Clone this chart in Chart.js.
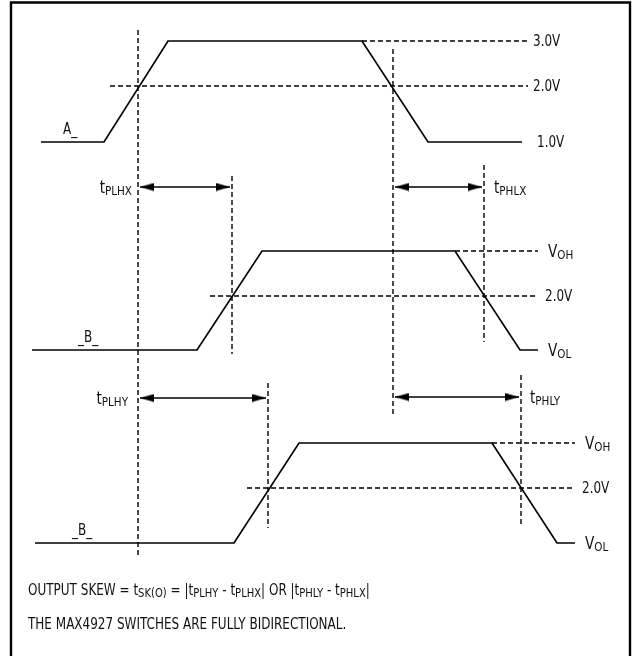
<!DOCTYPE html>
<html>
<head>
<meta charset="utf-8">
<script src="https://cdn.jsdelivr.net/npm/chart.js@4.4.1/dist/chart.umd.min.js"></script>
<style>
  html, body { margin: 0; padding: 0; background: #ffffff; }
  canvas { display: block; }
</style>
</head>
<body>
<canvas id="c" width="632" height="656"></canvas>
<script>
// ---- Data (diagram units: time along x, signal level along y, 1 unit = 10 px) ----
// Waveform A_ (input), 1.0V low / 3.0V high
const timeA   = [4.1, 10.4, 16.8, 36.2, 42.8, 52.2];
const levelA  = [14.2, 14.2, 4.1, 4.1, 14.2, 14.2];
// Waveform _B_ (first output), VOL / VOH
const timeB1  = [3.2, 19.7, 26.2, 45.5, 52.0, 53.8];
const levelB1 = [35.0, 35.0, 25.1, 25.1, 35.0, 35.0];
// Waveform _B_ (second output), VOL / VOH
const timeB2  = [3.5, 23.4, 29.9, 49.2, 55.7, 57.5];
const levelB2 = [54.3, 54.3, 44.3, 44.3, 54.3, 54.3];

// Horizontal reference levels: [level, start time, end time]
const refLevels = [
  [8.6, 11.0, 52.8],   // A 2.0V
  [4.1, 36.2, 52.8],   // A 3.0V
  [29.6, 21.0, 53.7],  // B1 2.0V
  [25.1, 45.5, 53.8],  // B1 VOH
  [48.8, 24.7, 57.5],  // B2 2.0V
  [44.3, 49.2, 57.5]   // B2 VOH
];
// Vertical timing markers: [time, top level, bottom level]
const markers = [
  [13.8, 3.0, 55.7],
  [23.2, 17.6, 35.4],
  [39.3, 4.9, 41.4],
  [48.4, 16.5, 34.2],
  [26.8, 38.3, 52.8],
  [52.1, 37.5, 52.7]
];
// Propagation delay intervals: [start time, end time, row level]
const delays = [
  [14.0, 23.0, 18.7],  // tPLHX
  [39.5, 48.2, 18.7],  // tPHLX
  [14.0, 26.6, 39.8],  // tPLHY
  [39.5, 51.9, 39.7]   // tPHLY
];
// Labels: [text, time, level, align, kind]
const labels = [
  ['A_', 6.3, 12.9, 'left', 'n'],
  ['3.0V', 53.3, 4.1, 'left', 'n'],
  ['2.0V', 53.3, 8.6, 'left', 'n'],
  ['1.0V', 53.7, 14.2, 'left', 'n'],
  ['t_{PLHX}', 13.2, 18.7, 'right', 't'],
  ['t_{PHLX}', 49.4, 18.7, 'left', 't'],
  ['_B_', 7.8, 33.7, 'left', 'n'],
  ['V_{OH}', 54.8, 25.1, 'left', 't'],
  ['2.0V', 54.5, 29.6, 'left', 'n'],
  ['V_{OL}', 54.8, 35.0, 'left', 't'],
  ['t_{PLHY}', 12.8, 39.8, 'right', 't'],
  ['t_{PHLY}', 53.0, 39.7, 'left', 't'],
  ['_B_', 7.2, 53.0, 'left', 'n'],
  ['V_{OH}', 58.5, 44.3, 'left', 't'],
  ['2.0V', 58.2, 48.8, 'left', 'n'],
  ['V_{OL}', 58.5, 54.3, 'left', 't'],
  ['OUTPUT SKEW = t_{SK(O)} = |t_{PLHY} - t_{PLHX}| OR |t_{PHLY} - t_{PHLX}|', 2.8, 59.0, 'left', 'b'],
  ['THE MAX4927 SWITCHES ARE FULLY BIDIRECTIONAL.', 2.8, 62.4, 'left', 'b']
];
// Figure frame
const frameX = [1.1, 1.1, 63.0, 63.0];
const frameY = [70, 0.25, 0.25, 70];

// ---- Build ----
const FONT = '"Liberation Sans Narrow", "DejaVu Sans Condensed", "Arial Narrow", sans-serif';
const INK = '#111111';
const SQUEEZE = 0.89;

function pts(xs, ys) { return xs.map((x, i) => ({ x: x, y: ys[i] })); }

function arrowImg(dir) {
  const L = 14, H = 9;
  const cv = document.createElement('canvas');
  cv.width = 2 * L; cv.height = H;
  const g = cv.getContext('2d');
  g.fillStyle = '#000';
  g.beginPath();
  if (dir > 0) { g.moveTo(0, 0.5); g.lineTo(L, H / 2); g.lineTo(0, H - 0.5); }
  else { g.moveTo(2 * L, 0.5); g.lineTo(L, H / 2); g.lineTo(2 * L, H - 0.5); }
  g.closePath(); g.fill();
  return cv;
}
const leftHead = arrowImg(-1), rightHead = arrowImg(1);

const datasets = [];
const solid = { showLine: true, borderColor: '#000', borderWidth: 1.7, pointRadius: 0, fill: false, tension: 0 };
const dashed = { showLine: true, borderColor: '#000', borderWidth: 1.4, borderDash: [5, 3], pointRadius: 0, fill: false, tension: 0 };

datasets.push(Object.assign({ label: 'frame', data: pts(frameX, frameY) }, solid, { borderWidth: 2.4 }));
datasets.push(Object.assign({ label: 'A_', data: pts(timeA, levelA) }, solid));
datasets.push(Object.assign({ label: '_B_ 1', data: pts(timeB1, levelB1) }, solid));
datasets.push(Object.assign({ label: '_B_ 2', data: pts(timeB2, levelB2) }, solid));
refLevels.forEach((r, i) => {
  datasets.push(Object.assign({ label: 'ref' + i, data: [{ x: r[1], y: r[0] }, { x: r[2], y: r[0] }] }, dashed));
});
markers.forEach((m, i) => {
  datasets.push(Object.assign({ label: 'mark' + i, data: [{ x: m[0], y: m[1] }, { x: m[0], y: m[2] }] }, dashed));
});
delays.forEach((d, i) => {
  datasets.push({
    label: 'delay' + i, showLine: true, borderColor: '#000', borderWidth: 1.7, fill: false,
    data: [{ x: d[0], y: d[2] }, { x: d[1], y: d[2] }],
    pointStyle: [leftHead, rightHead], pointRadius: 6, pointHoverRadius: 6
  });
});

function parseRuns(s) {
  const runs = [];
  const re = /_\{([^}]*)\}/g;
  let last = 0, m;
  while ((m = re.exec(s)) !== null) {
    if (m.index > last) runs.push({ t: s.slice(last, m.index), sub: false });
    runs.push({ t: m[1], sub: true });
    last = re.lastIndex;
  }
  if (last < s.length) runs.push({ t: s.slice(last), sub: false });
  return runs;
}

const textPlugin = {
  id: 'diagramText',
  afterDatasetsDraw(chart) {
    const ctx = chart.ctx, xs = chart.scales.x, ys = chart.scales.y;
    ctx.save();
    ctx.fillStyle = INK;
    ctx.textBaseline = 'alphabetic';
    labels.forEach(l => {
      const kind = l[4];
      const mainSize = kind === 'b' ? 15 : (kind === 't' ? 17 : 15);
      const subSize = kind === 'b' ? 12.5 : 13;
      const subDrop = kind === 'b' ? 2 : 1.5;
      const runs = parseRuns(l[0]);
      let total = 0;
      runs.forEach(r => {
        ctx.font = (r.sub ? subSize : mainSize) + 'px ' + FONT;
        r.w = ctx.measureText(r.t).width * SQUEEZE;
        total += r.w;
      });
      let x = xs.getPixelForValue(l[1]);
      const yMid = ys.getPixelForValue(l[2]);
      const base = yMid + mainSize * 0.36;
      if (l[3] === 'right') x -= total;
      runs.forEach(r => {
        ctx.font = (r.sub ? subSize : mainSize) + 'px ' + FONT;
        ctx.save();
        ctx.translate(x, r.sub ? base + subDrop : base);
        ctx.scale(SQUEEZE, 1);
        ctx.fillText(r.t, 0, 0);
        ctx.restore();
        x += r.w;
      });
    });
    ctx.restore();
  }
};

new Chart(document.getElementById('c'), {
  type: 'scatter',
  data: { datasets: datasets },
  options: {
    responsive: false,
    animation: false,
    events: [],
    layout: { padding: 0, autoPadding: false },
    plugins: { legend: { display: false }, tooltip: { enabled: false } },
    scales: {
      x: { type: 'linear', min: 0, max: 63.2, display: false },
      y: { type: 'linear', min: 0, max: 65.6, reverse: true, display: false }
    }
  },
  plugins: [textPlugin]
});
</script>
</body>
</html>
